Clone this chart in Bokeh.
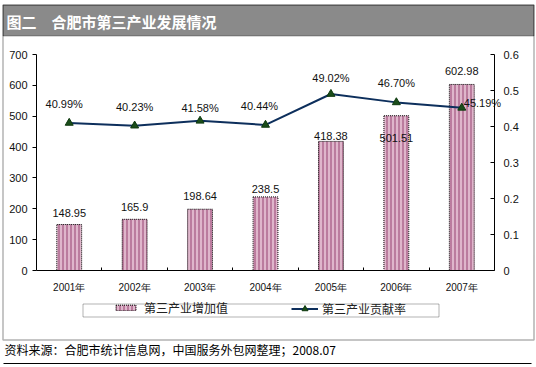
from bokeh.plotting import figure
from bokeh.models import (Range1d, LinearAxis, FixedTicker, LabelSet, Label,
                          BoxAnnotation, Legend, LegendItem, ColumnDataSource)
from bokeh.embed import file_html
from bokeh.resources import INLINE
from bokeh.core.properties import value

# ---- data ----
years = ["2001年", "2002年", "2003年", "2004年", "2005年", "2006年", "2007年"]
added_value = [148.95, 165.9, 198.64, 238.5, 418.38, 501.51, 602.98]
contrib_rate = [0.4099, 0.4023, 0.4158, 0.4044, 0.4902, 0.4670, 0.4519]
value_labels = ["148.95", "165.9", "198.64", "238.5", "418.38", "501.51", "602.98"]
rate_labels = ["40.99%", "40.23%", "41.58%", "40.44%", "49.02%", "46.70%", "45.19%"]
left_ticks = [0, 100, 200, 300, 400, 500, 600, 700]
right_ticks = [0, 0.1, 0.2, 0.3, 0.4, 0.5, 0.6]
title_text = "图二　合肥市第三产业发展情况"
bar_name = "第三产业增加值"
line_name = "第三产业贡献率"
source_text = "资料来源：合肥市统计信息网，中国服务外包网整理；2008.07"

# ---- layout (pixels) ----
W, H = 536, 367
FL, FR, FT, FB = 36, 494, 54, 270          # plot area inside the canvas
value_dy = [12, 12, 13, 8, 5, -22, 13]
rate_dx = [-5, 0, 0, -6, 0, 0, 2]
rate_dy = [19, 19, 13, 19, 16, 19, 5]
rate_align = ["center"] * 6 + ["left"]

NUM_FONT = "Liberation Sans"
CJK_FONT = "Noto Sans CJK SC"

n = len(years)
pos = [i + 1 for i in range(n)]            # category centres
bounds_pos = [i + 1.5 for i in range(n - 1)]
y_max, r_max = left_ticks[-1], right_ticks[-1]

# ranges chosen so the drawing frame is the whole canvas and the
# axes (fixed_location) sit at the plot-area edges
PX = (FR - FL) / n
PY = (FB - FT) / y_max
PR = (FB - FT) / r_max
x_range = Range1d(0.5 - FL / PX, n + 0.5 + (W - FR) / PX)
y_range = Range1d(-(H - FB) / PY, y_max + FT / PY)
r_range = Range1d(-(H - FB) / PR, r_max + FT / PR)

def sx(X):
    return X

def sy(Y):
    return H - Y

p = figure(width=W, height=H, output_backend="svg", toolbar_location=None,
           x_range=x_range, y_range=y_range, x_axis_type=None, y_axis_type=None,
           min_border=0, min_border_left=0, min_border_right=0, min_border_top=0,
           min_border_bottom=0, outline_line_color=None,
           background_fill_color="white", border_fill_color="white")
if p.title is not None:
    p.title.visible = False
p.grid.visible = False
p.extra_y_ranges = {"pct": r_range}

def style_axis(ax, size="11px"):
    ax.minor_tick_line_color = None
    ax.major_label_text_font = NUM_FONT
    ax.major_label_text_font_size = size
    ax.major_label_text_color = "#111111"
    ax.axis_line_color = "black"
    ax.major_tick_line_color = "black"

# left axis
ya = LinearAxis(ticker=FixedTicker(ticks=left_ticks), fixed_location=pos[0] - 0.5,
                bounds=(0, y_max))
style_axis(ya)
ya.major_tick_in = 0
ya.major_tick_out = 4
ya.major_label_standoff = 5
p.add_layout(ya, "left")

# right axis
ra = LinearAxis(y_range_name="pct", ticker=FixedTicker(ticks=right_ticks),
                fixed_location=pos[-1] + 0.5, bounds=(0, r_max))
style_axis(ra)
ra.major_label_overrides = {0: "0"}
ra.major_tick_in = 4
ra.major_tick_out = 0
ra.major_label_standoff = 9
p.add_layout(ra, "right")

# bottom axis (category labels)
xa = LinearAxis(ticker=FixedTicker(ticks=pos), fixed_location=0,
                bounds=(pos[0] - 0.5, pos[-1] + 0.5))
style_axis(xa, "10px")
xa.major_label_overrides = {pv: yl for pv, yl in zip(pos, years)}
xa.major_tick_line_color = None
xa.major_label_standoff = 5
p.add_layout(xa, "below")

# bottom axis tick marks at category boundaries
xb = LinearAxis(ticker=FixedTicker(ticks=bounds_pos), fixed_location=0,
                bounds=(pos[0] - 0.5, pos[-1] + 0.5))
style_axis(xb, "10px")
xb.axis_line_color = None
xb.major_label_text_alpha = 0
xb.major_tick_in = 3
xb.major_tick_out = 0
p.add_layout(xb, "below")

src = ColumnDataSource(dict(x=pos, v=added_value, r=contrib_rate, vl=value_labels,
                            rl=rate_labels, vdy=value_dy, rdx=rate_dx, rdy=rate_dy,
                            ra=rate_align))

bars = p.vbar(x="x", top="v", width=0.38, source=src, fill_color="#dfb6cb",
              hatch_pattern="vertical_line", hatch_color="#bb7c9e", hatch_scale=4,
              hatch_weight=2, line_color="black", line_dash="1 1", line_width=1)

line_r = p.line(x="x", y="r", source=src, y_range_name="pct", line_color="#0d2f5c",
                line_width=2)
pts_r = p.scatter(x="x", y="r", source=src, y_range_name="pct", marker="triangle",
                  size=8, fill_color="#1a4d1a", line_color="#0f3a0f")

p.add_layout(LabelSet(x="x", y="v", text="vl", source=src, y_offset="vdy",
                      text_align="center", text_baseline="middle",
                      text_font=value(NUM_FONT), text_font_size="11px",
                      text_color="#111111"))
p.add_layout(LabelSet(x="x", y="r", text="rl", source=src, y_range_name="pct",
                      x_offset="rdx", y_offset="rdy", text_align="ra",
                      text_baseline="middle", text_font=value(NUM_FONT),
                      text_font_size="11px", text_color="#111111"))

def sbox(l, r, t, b, **kw):
    return BoxAnnotation(left=sx(l), right=sx(r), top=sy(t), bottom=sy(b),
                         left_units="screen", right_units="screen",
                         top_units="screen", bottom_units="screen", **kw)

# title bar, outer frame, legend box, bottom rule
p.add_layout(sbox(2.5, 533.5, 4.5, 35.5, fill_color="#8a8a8a", fill_alpha=1,
                  line_color="black", line_width=1))
p.add_layout(sbox(2.5, 533.5, 4.5, 339.5, fill_alpha=0, line_color="black",
                  line_width=1.5))
p.add_layout(sbox(82.5, 438.5, 303.5, 316.5, fill_alpha=0, line_color="black",
                  line_width=1))
p.add_layout(sbox(3, 531, 362.5, 363.5, fill_color="black", fill_alpha=1,
                  line_color=None))

# legends
leg1 = Legend(items=[LegendItem(label=bar_name, renderers=[bars])],
              location=(sx(113), sy(315.5)), orientation="horizontal", padding=0,
              margin=0, spacing=0, glyph_width=25, glyph_height=7, label_standoff=6,
              label_height=12, label_text_font=CJK_FONT, label_text_font_size="12px",
              label_text_color="#222222", border_line_color=None,
              background_fill_alpha=0)
leg2 = Legend(items=[LegendItem(label=line_name, renderers=[line_r, pts_r])],
              location=(sx(291), sy(317)), orientation="horizontal", padding=0,
              margin=0, spacing=0, glyph_width=27, glyph_height=15, label_standoff=4,
              label_height=12, label_text_font=CJK_FONT, label_text_font_size="12px",
              label_text_color="#222222", border_line_color=None,
              background_fill_alpha=0)
p.add_layout(leg1)
p.add_layout(leg2)

p.add_layout(Label(x=sx(6), y=sy(20.5), x_units="screen", y_units="screen",
                   text=title_text, text_font=CJK_FONT, text_font_size="15px",
                   text_font_style="bold", text_color="white", text_baseline="middle"))
p.add_layout(Label(x=sx(4), y=sy(349), x_units="screen", y_units="screen",
                   text=source_text, text_font=CJK_FONT, text_font_size="12px",
                   text_color="black", text_baseline="middle"))

open("out.html", "w").write(file_html(p, INLINE))
